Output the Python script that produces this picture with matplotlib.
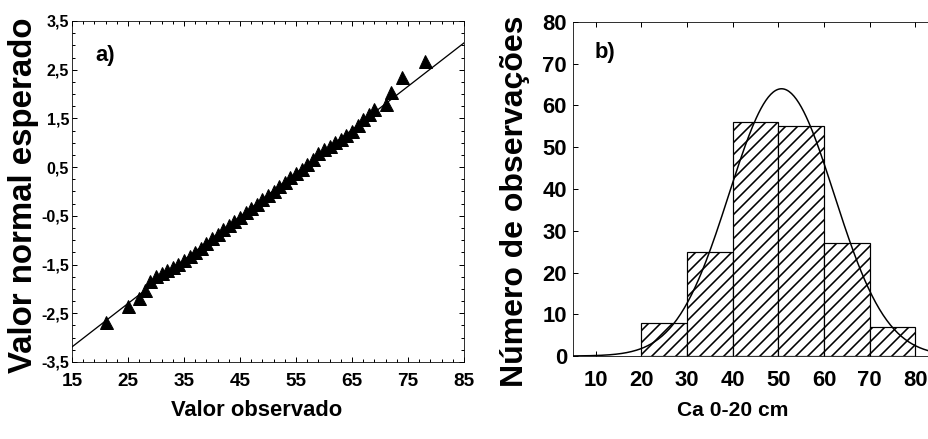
import numpy as np
import matplotlib
matplotlib.use("Agg")
import matplotlib.pyplot as plt
from matplotlib.ticker import FixedLocator, FuncFormatter

plt.rcParams['font.family'] = ['Liberation Sans', 'DejaVu Sans']
plt.rcParams['font.weight'] = 'bold'
plt.rcParams['axes.labelweight'] = 'bold'
plt.rcParams['hatch.linewidth'] = 1.6

# a) normal probability plot
obs = [21, 25, 27, 28, 29, 30, 31, 32, 33, 34, 35, 36, 37, 38, 39, 40,
       41, 42, 43, 44, 45, 46, 47, 48, 49, 50, 51, 52, 53, 54, 55, 56,
       57, 58, 59, 60, 61, 62, 63, 64, 65, 66, 67, 68, 69, 71, 72, 74, 78]
esperado = [-2.67, -2.36, -2.18, -2.02, -1.84, -1.74, -1.67, -1.61, -1.55,
            -1.48, -1.41, -1.33, -1.25, -1.15, -1.05, -0.96, -0.87, -0.78,
            -0.69, -0.60, -0.52, -0.43, -0.34, -0.25, -0.16, -0.07, 0.02,
            0.11, 0.20, 0.29, 0.37, 0.46, 0.56, 0.67, 0.78, 0.87, 0.94,
            1.01, 1.08, 1.16, 1.25, 1.36, 1.48, 1.60, 1.70, 1.80, 2.05,
            2.35, 2.68]
reta_x = [15, 85]
reta_y = [-3.19, 3.05]

# b) histogram
bins = [20, 30, 40, 50, 60, 70, 80]
contagens = [8, 25, 56, 55, 27, 7]
media, desvio, pico = 50.7, 11.5, 64.0

fig = plt.figure(figsize=(928 / 72, 439 / 72), dpi=72)

ax1 = fig.add_axes([0.0776, 0.1754, 0.4224, 0.7768])
ax1.plot(reta_x, reta_y, color='black', lw=1.3, zorder=2)
ax1.plot(obs, esperado, '^', color='black', ms=13, zorder=3)
ax1.set_xlim(15, 85)
ax1.set_ylim(-3.5, 3.5)
ax1.set_xticks(np.arange(15, 86, 10))
ax1.set_yticks(np.arange(-3.5, 3.6, 1.0))
ax1.xaxis.set_minor_locator(FixedLocator(np.arange(15, 86, 2)))
ax1.yaxis.set_minor_locator(FixedLocator(np.arange(-3.5, 3.6, 0.25)))
virg = FuncFormatter(lambda v, p: ('%.1f' % v).replace('.', ','))
ax1.yaxis.set_major_formatter(virg)
ax1.tick_params(which='both', direction='in', top=True, right=True, width=1)
ax1.tick_params(which='major', length=5, labelsize=16)
ax1.tick_params(axis='y', pad=3)
ax1.tick_params(axis='x', which='major', labelsize=19, pad=11)
ax1.tick_params(which='minor', length=3)
ax1.set_xlabel('Valor observado', fontsize=22)
ax1.xaxis.set_label_coords(0.472, -0.141)
ax1.xaxis.label.set_va('center')
ax1.set_ylabel('Valor normal esperado', fontsize=33)
ax1.yaxis.set_label_coords(-0.125, 0.49)
ax1.yaxis.label.set_va('center')
ax1.text(0.084, 0.9, 'a)', transform=ax1.transAxes, fontsize=22,
         ha='center', va='center')

ax2 = fig.add_axes([0.6175, 0.189, 0.3933, 0.761])
larg = np.diff(bins)
ax2.bar(bins[:-1], contagens, width=larg, align='edge', color='white',
        edgecolor='black', hatch='//', lw=1.2, zorder=2)
xs = np.linspace(5, 85, 300)
ax2.plot(xs, pico * np.exp(-(xs - media) ** 2 / (2 * desvio ** 2)),
         color='black', lw=1.5, zorder=3)
ax2.set_xlim(5, 85)
ax2.set_ylim(0, 80)
ax2.set_xticks(np.arange(10, 81, 10))
ax2.set_yticks(np.arange(0, 81, 10))
ax2.tick_params(direction='in', top=True, length=5, width=1, labelsize=22)
ax2.tick_params(axis='x', pad=14)
ax2.tick_params(axis='y', pad=6)
ax2.set_xlabel('Ca 0-20 cm', fontsize=21)
ax2.xaxis.set_label_coords(0.438, -0.162)
ax2.xaxis.label.set_va('center')
ax2.set_ylabel('Número de observações', fontsize=32)
ax2.yaxis.set_label_coords(-0.159, 0.464)
ax2.yaxis.label.set_va('center')
ax2.text(0.088, 0.91, 'b)', transform=ax2.transAxes, fontsize=22,
         ha='center', va='center')

fig.savefig('out.png', dpi=72)
